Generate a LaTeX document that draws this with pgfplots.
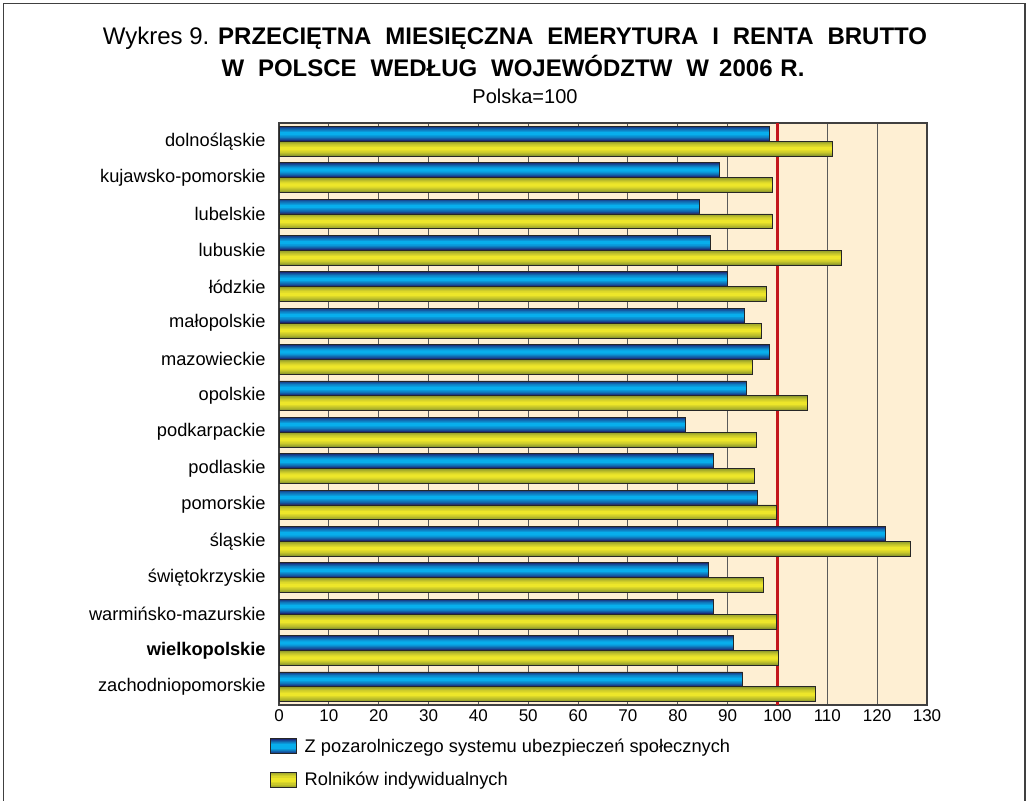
\documentclass[border=0pt]{standalone}
\usepackage{pgfplots}
\usepackage{pgfplotstable}
\pgfplotsset{compat=1.18}
\usepackage{fontspec}
\setmainfont{Liberation Sans}
\definecolor{bgbeige}{HTML}{FEEFD3}
\definecolor{gridgray}{HTML}{5A5A5A}
\definecolor{refred}{HTML}{C4161C}
\definecolor{bluedark}{HTML}{1B2A78}
\definecolor{bluelight}{HTML}{08AEEC}
\definecolor{yeldark}{HTML}{8F9A2C}
\definecolor{yellight}{HTML}{EDE62A}
\pgfplotstableread{
idx  pozarol rolnicy
0    98.3    111.0
1    88.4    98.9
2    84.4    98.9
3    86.6    112.9
4    89.9    97.8
5    93.4    96.8
6    98.4    95.0
7    93.8    106.1
8    81.6    95.7
9    87.2    95.3
10   96.0    99.8
11   121.7   126.7
12   86.1    97.1
13   87.2    99.7
14   91.2    100.1
15   93.0    107.7
}\datatable
\newcommand{\gradbox}[2]{%
  \fill[#1] (0pt,-5.6pt) rectangle (19.5pt,5.6pt);
  \fill[#1!75!#2] (0pt,-4.8pt) rectangle (19.5pt,4.8pt);
  \fill[#1!55!#2] (0pt,-4.0pt) rectangle (19.5pt,4.0pt);
  \fill[#1!35!#2] (0pt,-3.1pt) rectangle (19.5pt,3.1pt);
  \fill[#1!18!#2] (0pt,-2.2pt) rectangle (19.5pt,2.2pt);
  \fill[#2] (0pt,-1.2pt) rectangle (19.5pt,1.2pt);
  \draw[black!85, line width=0.6pt] (0pt,-5.6pt) rectangle (19.5pt,5.6pt);}
\begin{document}
\begin{tikzpicture}
\path[use as bounding box] (0,0) rectangle (772.5pt,600pt);
\draw[line width=1.2pt, color=black!75] (2.5pt,-5pt) -- (2.5pt,597.5pt) -- (768.75pt,597.5pt) -- (768.75pt,-5pt);
\node[font=\fontsize{18}{21}\selectfont] at (386.25pt,571pt)
  {Wykres 9. \textbf{PRZECIĘTNA\hspace{0.3em} MIESIĘCZNA\hspace{0.3em} EMERYTURA\hspace{0.3em} I\hspace{0.3em} RENTA\hspace{0.3em} BRUTTO}};
\node[font=\fontsize{18}{21}\selectfont] at (384.75pt,550.5pt)
  {\textbf{W\hspace{0.3em} POLSCE\hspace{0.3em} WEDŁUG\hspace{0.3em} WOJEWÓDZTW\hspace{0.3em} W\hspace{0.15em} 2006\hspace{0.05em} R.}};
\node[font=\fontsize{15}{18}\selectfont] at (393.75pt,527.5pt) {Polska=100};
\begin{axis}[
  at={(209.25pt,71.25pt)}, anchor=south west,
  scale only axis, width=486pt, height=436.5pt,
  xmin=0, xmax=130, ymin=-0.5, ymax=15.5,
  y dir=reverse,
  xtick={0,10,...,130},
  ytick={0,...,15},
  yticklabels={dolnośląskie,kujawsko-pomorskie,lubelskie,lubuskie,łódzkie,małopolskie,mazowieckie,opolskie,podkarpackie,podlaskie,pomorskie,śląskie,świętokrzyskie,warmińsko-mazurskie,{\bfseries wielkopolskie},zachodniopomorskie},
  major tick length=0pt,
  xmajorgrids,
  grid style={gridgray, line width=0.8pt},
  axis line style={black!75, line width=1.1pt},
  axis background/.style={fill=bgbeige},
  xticklabel style={font=\fontsize{12.75}{15}\selectfont},
  yticklabel style={font=\fontsize{13.7}{16}\selectfont, xshift=-6.5pt},
  /pgf/number format/assume math mode=true,
  legend style={at={(0,0)}, anchor=north west, xshift=-9.75pt, yshift=-21pt,
    draw=none, fill=none, font=\fontsize{13.7}{16}\selectfont,
    row sep=9.5pt, column sep=3.75pt, legend cell align=left},
]
\addplot[refred, line width=2.6pt, forget plot] coordinates {(100,-0.5) (100,15.5)};
% --- blue series, drawn as layered gradient
\addplot[xbar, forget plot, bar width=0.41, bar shift=-0.205, draw=none, fill=bluedark] table[x=pozarol, y=idx] {\datatable};
\addplot[xbar, forget plot, bar width=0.35, bar shift=-0.205, draw=none, fill=bluedark!75!bluelight] table[x=pozarol, y=idx] {\datatable};
\addplot[xbar, forget plot, bar width=0.29, bar shift=-0.205, draw=none, fill=bluedark!55!bluelight] table[x=pozarol, y=idx] {\datatable};
\addplot[xbar, forget plot, bar width=0.23, bar shift=-0.205, draw=none, fill=bluedark!35!bluelight] table[x=pozarol, y=idx] {\datatable};
\addplot[xbar, forget plot, bar width=0.16, bar shift=-0.205, draw=none, fill=bluedark!18!bluelight] table[x=pozarol, y=idx] {\datatable};
\addplot[xbar, forget plot, bar width=0.09, bar shift=-0.205, draw=none, fill=bluelight] table[x=pozarol, y=idx] {\datatable};
\addplot[xbar, bar width=0.41, bar shift=-0.205, draw=black!85, line width=0.6pt, fill=none,
  legend image code/.code={\gradbox{bluedark}{bluelight}}]
  table[x=pozarol, y=idx] {\datatable};
% --- yellow series
\addplot[xbar, forget plot, bar width=0.41, bar shift=0.205, draw=none, fill=yeldark] table[x=rolnicy, y=idx] {\datatable};
\addplot[xbar, forget plot, bar width=0.35, bar shift=0.205, draw=none, fill=yeldark!75!yellight] table[x=rolnicy, y=idx] {\datatable};
\addplot[xbar, forget plot, bar width=0.29, bar shift=0.205, draw=none, fill=yeldark!55!yellight] table[x=rolnicy, y=idx] {\datatable};
\addplot[xbar, forget plot, bar width=0.23, bar shift=0.205, draw=none, fill=yeldark!35!yellight] table[x=rolnicy, y=idx] {\datatable};
\addplot[xbar, forget plot, bar width=0.16, bar shift=0.205, draw=none, fill=yeldark!18!yellight] table[x=rolnicy, y=idx] {\datatable};
\addplot[xbar, forget plot, bar width=0.09, bar shift=0.205, draw=none, fill=yellight] table[x=rolnicy, y=idx] {\datatable};
\addplot[xbar, bar width=0.41, bar shift=0.205, draw=black!85, line width=0.6pt, fill=none,
  legend image code/.code={\gradbox{yeldark}{yellight}}]
  table[x=rolnicy, y=idx] {\datatable};
\legend{Z pozarolniczego systemu ubezpieczeń społecznych, Rolników indywidualnych}
\end{axis}
\end{tikzpicture}
\end{document}
